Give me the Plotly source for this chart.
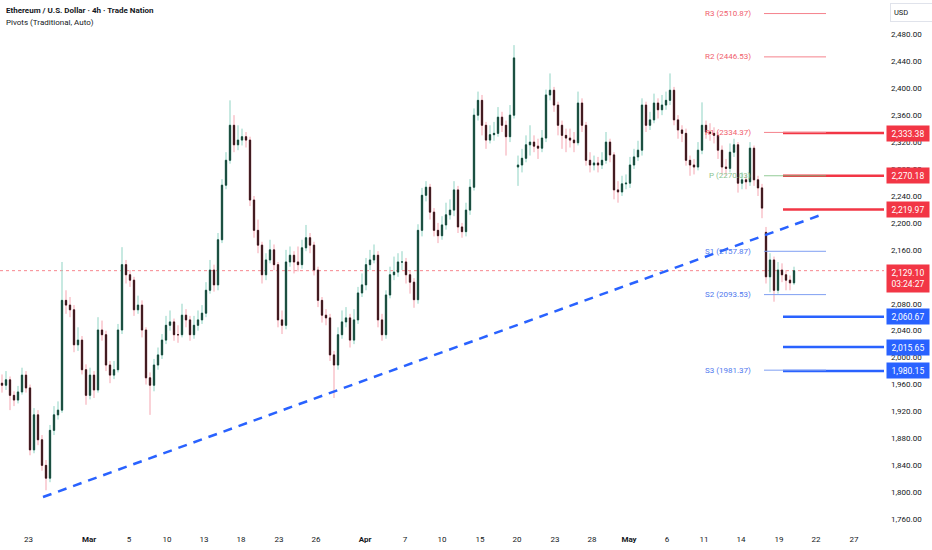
import plotly.graph_objects as go

# ---------------- data ----------------
closes = [
    1959, 1967, 1944, 1937, 1949, 1974, 1955, 1863, 1915, 1878,
    1840, 1821, 1892, 1915, 1922, 2085, 2078, 2071, 2019, 2026,
    1982, 1944, 1974, 1952, 2041, 2034, 1989, 1974, 1982, 2041,
    2138, 2123, 2115, 2071, 2078, 2041, 1970, 1959, 1989, 2004,
    2026, 2048, 2053, 2034, 2034, 2063, 2056, 2034, 2048, 2056,
    2066, 2100, 2130, 2108, 2175, 2256, 2293, 2345, 2316, 2323,
    2328, 2323, 2234, 2189, 2167, 2123, 2145, 2160, 2138, 2056,
    2048, 2142, 2152, 2142, 2138, 2163, 2178, 2167, 2130, 2085,
    2063, 2059, 2004, 1989, 2034, 2053, 2059, 2026, 2056, 2096,
    2108, 2138, 2145, 2152, 2056, 2034, 2093, 2123, 2127, 2142,
    2142, 2123, 2112, 2086, 2189, 2241, 2253, 2216, 2189, 2181,
    2197, 2212, 2219, 2249, 2194, 2187, 2219, 2253, 2360, 2382,
    2345, 2323, 2331, 2333, 2357, 2345, 2328, 2360, 2445, 2286,
    2296, 2316, 2320, 2314, 2311, 2326, 2390, 2397, 2375, 2345,
    2330, 2326, 2323, 2319, 2378, 2345, 2293, 2286, 2289, 2286,
    2293, 2320, 2301, 2249, 2246, 2258, 2259, 2286, 2298, 2308,
    2375, 2345, 2353, 2378, 2368, 2375, 2382, 2397, 2353, 2338,
    2333, 2293, 2286, 2283, 2308, 2345, 2335, 2333, 2330, 2308,
    2283, 2281, 2305, 2316, 2259, 2264, 2261, 2311, 2264, 2252,
    2222, 2120, 2145, 2100, 2130, 2123, 2115, 2111, 2129.1,
]
highs = [
    1975, 1980, 1972, 1950, 1958, 1985, 1980, 1960, 1925, 1922,
    1885, 1848, 1900, 1928, 1935, 2142, 2100, 2090, 2078, 2045,
    2032, 1990, 1985, 1980, 2060, 2055, 2040, 1995, 1995, 2050,
    2164, 2145, 2130, 2120, 2092, 2085, 2045, 1978, 1998, 2015,
    2035, 2062, 2070, 2058, 2048, 2080, 2072, 2062, 2062, 2070,
    2078, 2112, 2145, 2138, 2185, 2265, 2305, 2382, 2360, 2345,
    2340, 2335, 2328, 2240, 2205, 2172, 2155, 2175, 2168, 2142,
    2070, 2160, 2165, 2158, 2165, 2175, 2197, 2185, 2172, 2135,
    2090, 2072, 2065, 2010, 2045, 2070, 2075, 2065, 2072, 2105,
    2125, 2148, 2160, 2168, 2158, 2065, 2100, 2135, 2150, 2155,
    2158, 2148, 2130, 2118, 2198, 2252, 2262, 2258, 2222, 2200,
    2210, 2230, 2235, 2262, 2255, 2200, 2230, 2265, 2370, 2395,
    2390, 2350, 2345, 2350, 2372, 2365, 2352, 2375, 2464, 2300,
    2310, 2330, 2345, 2330, 2325, 2338, 2398, 2422, 2402, 2380,
    2352, 2340, 2340, 2335, 2395, 2385, 2350, 2305, 2300, 2298,
    2305, 2335, 2325, 2305, 2262, 2270, 2272, 2298, 2310, 2322,
    2385, 2380, 2365, 2392, 2385, 2390, 2395, 2422, 2402, 2360,
    2345, 2340, 2300, 2295, 2320, 2379, 2352, 2348, 2342, 2335,
    2315, 2295, 2318, 2325, 2320, 2275, 2272, 2320, 2315, 2270,
    2258, 2194, 2155, 2150, 2142, 2140, 2130, 2122, 2135,
]
lows = [
    1948, 1952, 1922, 1928, 1932, 1945, 1948, 1855, 1858, 1870,
    1832, 1803, 1815, 1885, 1908, 1918, 2065, 2060, 2008, 2010,
    1975, 1930, 1938, 1940, 1948, 2025, 1980, 1962, 1968, 1978,
    2035, 2110, 2105, 2062, 2065, 2030, 1960, 1915, 1950, 1982,
    1998, 2020, 2040, 2025, 2022, 2030, 2045, 2025, 2028, 2040,
    2050, 2060, 2095, 2098, 2100, 2170, 2250, 2288, 2305, 2308,
    2315, 2312, 2225, 2178, 2155, 2110, 2115, 2140, 2130, 2045,
    2035, 2042, 2135, 2125, 2128, 2132, 2158, 2155, 2122, 2075,
    2052, 2048, 1995, 1940, 1982, 2028, 2045, 2015, 2020, 2050,
    2090, 2100, 2130, 2140, 2045, 2025, 2028, 2088, 2115, 2120,
    2130, 2110, 2095, 2074, 2080, 2180, 2232, 2205, 2180, 2170,
    2175, 2190, 2205, 2210, 2185, 2178, 2180, 2212, 2248, 2352,
    2330, 2310, 2318, 2322, 2328, 2335, 2300, 2320, 2355, 2255,
    2275, 2290, 2300, 2305, 2295, 2305, 2320, 2382, 2365, 2330,
    2310, 2305, 2312, 2305, 2315, 2335, 2285, 2275, 2278, 2275,
    2280, 2288, 2290, 2235, 2230, 2240, 2250, 2252, 2280, 2292,
    2300, 2335, 2338, 2348, 2355, 2360, 2368, 2375, 2345, 2325,
    2320, 2285, 2270, 2272, 2278, 2302, 2325, 2322, 2318, 2295,
    2272, 2270, 2275, 2298, 2245, 2250, 2250, 2255, 2255, 2240,
    2207, 2110, 2097, 2083, 2095, 2112, 2100, 2100, 2108,
]
first_open = 1962
gap_opens = {129: 2283, 191: 2186}   # candles that opened with a gap

tick_labels = ["23", "<b>Mar</b>", "5", "10", "13", "18", "23", "26", "<b>Apr</b>", "7", "10",
               "15", "20", "23", "28", "<b>May</b>", "6", "11", "14", "19", "22", "27"]
tick_bars = [6.65, 21.75, 31.75, 41.25, 50.5, 59.75, 69.25, 78.5, 90.75, 100.75, 110,
             119.5, 128.75, 138.25, 147.5, 156.75, 166.25, 175.5, 184.75, 194.25, 203.5, 213]

pivot_names = ["R3", "R2", "R1", "P", "S1", "S2", "S3"]
pivot_values = [2510.87, 2446.53, 2334.37, 2270.03, 2157.87, 2093.53, 1981.37]

resistance_levels = [2333.38, 2270.18, 2219.97]
support_levels = [2060.67, 2015.65, 1980.15]

trend_bars = [10.25, 205.25]
trend_prices = [1793, 2213]

last_price = 2129.10
countdown = "03:24:27"

# ---------------- build ----------------
opens = [first_open] + closes[:-1]
for k, v in gap_opens.items():
    opens[k] = v
bars = list(range(len(closes)))
body_hi = [max(o, c) for o, c in zip(opens, closes)]
body_lo = [min(o, c) for o, c in zip(opens, closes)]

UP_WICK, DN_WICK = "#8fd3c3", "#f5a5b0"
UP_BODY, DN_BODY = "#17493b", "#3a161b"
RED, BLUE = "#f23645", "#2962ff"
FONT = "Roboto"
X_MAX = 220.5
PIV_START, PIV_END = 190.5, 206
LEVEL_START = 195.25

fig = go.Figure()
fig.add_trace(go.Candlestick(
    x=bars, open=opens, high=highs, low=lows, close=closes,
    increasing=dict(line=dict(color=UP_WICK, width=1), fillcolor=UP_WICK),
    decreasing=dict(line=dict(color=DN_WICK, width=1), fillcolor=DN_WICK),
    whiskerwidth=0, showlegend=False, hoverinfo="skip"))
fig.add_trace(go.Candlestick(
    x=bars, open=opens, high=body_hi, low=body_lo, close=closes,
    increasing=dict(line=dict(color=UP_BODY, width=1), fillcolor=UP_BODY),
    decreasing=dict(line=dict(color=DN_BODY, width=1), fillcolor=DN_BODY),
    whiskerwidth=0, showlegend=False, hoverinfo="skip"))

# trend line
fig.add_trace(go.Scatter(x=trend_bars, y=trend_prices, mode="lines",
                         line=dict(color=BLUE, width=2.5, dash="9px,7px"),
                         showlegend=False, hoverinfo="skip"))

shapes = []
annotations = []

# current price dotted line
shapes.append(dict(type="line", xref="paper", x0=0, x1=1, yref="y", y0=last_price, y1=last_price,
                   line=dict(color="rgba(242,54,69,0.6)", width=1, dash="dot"), layer="below"))

# user level lines
for lv in resistance_levels:
    shapes.append(dict(type="line", xref="x", x0=LEVEL_START, x1=X_MAX, yref="y", y0=lv, y1=lv,
                       line=dict(color=RED, width=2.5)))
for lv in support_levels:
    shapes.append(dict(type="line", xref="x", x0=LEVEL_START, x1=X_MAX, yref="y", y0=lv, y1=lv,
                       line=dict(color=BLUE, width=2.5)))

# pivot lines and labels
for name, val in zip(pivot_names, pivot_values):
    if name.startswith("R"):
        lc, tc = "#f5828c", "#f0606d"
    elif name.startswith("S"):
        lc, tc = "#7f9ff2", "#4f78ee"
    else:
        lc, tc = "rgba(120,190,125,0.8)", "#8cc590"
    shapes.append(dict(type="line", xref="x", x0=PIV_START, x1=PIV_END, yref="y", y0=val, y1=val,
                       line=dict(color=lc, width=1)))
    annotations.append(dict(xref="x", x=PIV_START - 2.8, y=val, yref="y", xanchor="right",
                            yanchor="middle", text=f"{name} ({val:.2f})", showarrow=False,
                            font=dict(family=FONT, size=8, color=tc)))

# axis boxes
def axis_box(val, text, color, lines=1):
    annotations.append(dict(xref="paper", x=1, xanchor="left", xshift=2, yref="y", y=val,
                            yanchor="top" if lines > 1 else "middle", yshift=7 if lines > 1 else 0,
                            text=text, showarrow=False, bgcolor=color, width=40,
                            height=12 * lines + 1, borderpad=1, align="center",
                            font=dict(family=FONT, size=8.5, color="white")))

for lv in resistance_levels:
    axis_box(lv, f"{lv:,.2f}", RED)
for lv in support_levels:
    axis_box(lv, f"{lv:,.2f}", BLUE)
axis_box(last_price, f"{last_price:,.2f}<br>{countdown}", RED, lines=2)

# title texts
annotations.append(dict(xref="paper", yref="paper", x=0, y=1, xanchor="left", yanchor="top",
                        xshift=4, yshift=-4, showarrow=False, align="left",
                        text="<b>Ethereum / U.S. Dollar · 4h · Trade Nation</b>",
                        font=dict(family=FONT, size=8, color="#131722")))
annotations.append(dict(xref="paper", yref="paper", x=0, y=1, xanchor="left", yanchor="top",
                        xshift=4, yshift=-16, showarrow=False, align="left",
                        text="Pivots (Traditional, Auto)",
                        font=dict(family=FONT, size=8, color="#131722")))
annotations.append(dict(xref="paper", yref="paper", x=1, y=1, xanchor="left", yanchor="top",
                        xshift=6, yshift=-3, showarrow=False, text="USD", align="left",
                        bgcolor="white", bordercolor="#e0e3eb", borderwidth=1, borderpad=3,
                        width=36, height=11,
                        font=dict(family=FONT, size=7.5, color="#131722")))

fig.update_layout(
    width=932, height=550,
    margin=dict(l=0, r=48, t=0, b=22),
    paper_bgcolor="white", plot_bgcolor="white",
    shapes=shapes, annotations=annotations,
    boxgap=0.55,
    xaxis=dict(range=[-0.5, X_MAX], tickmode="array", tickvals=tick_bars, ticktext=tick_labels,
               showgrid=False, zeroline=False, showline=False, ticks="", ticklabelstandoff=5,
               rangeslider=dict(visible=False), tickfont=dict(family=FONT, size=8, color="#131722")),
    yaxis=dict(side="right", range=[1747, 2531], tick0=1760, dtick=40, tickformat=",.2f",
               showgrid=False, zeroline=False, showline=False, ticks="", ticklabelstandoff=6,
               tickfont=dict(family=FONT, size=8, color="#131722")),
    font=dict(family=FONT),
)

fig.write_html("out.html", config={"displayModeBar": False},
               post_script="document.body.style.margin='0';document.body.style.overflow='hidden';")
